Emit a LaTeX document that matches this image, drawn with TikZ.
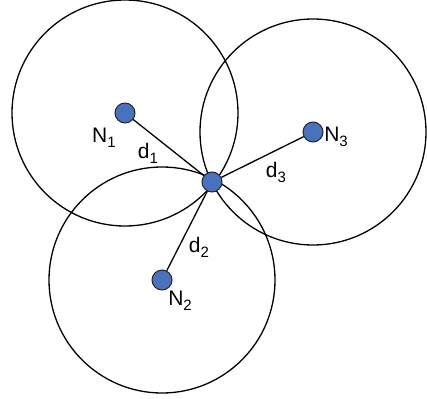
\documentclass[tikz,border=0pt]{standalone}
\usepackage{fontspec}
\setmainfont{Liberation Sans}
\usetikzlibrary{positioning}

\definecolor{dotblue}{RGB}{72,114,190}
\newcommand{\lowidx}[1]{\raisebox{-0.45ex}{\fontsize{15}{15}\selectfont #1}}

\begin{document}
\begin{tikzpicture}[x=1pt, y=-1pt, every node/.style={font=\fontsize{21}{24}\selectfont, inner sep=0pt},
	sensor/.style={draw=black!85, line width=1pt, circle, fill=dotblue, minimum size=20pt, inner sep=0pt},
	reach/.style={line width=1.3pt},
	link/.style={line width=1.3pt}]
	\useasboundingbox (0,0) rectangle (427,398);
	\coordinate (p1) at (125,113);
	\coordinate (p2) at (162,280);
	\coordinate (p3) at (313,132);
	\foreach \i in {1,2,3} {
		\draw[reach] (p\i) circle[radius=113pt];
	}
	\node[sensor] (c) at (212,182) {};
	\foreach \i in {1,2,3} {
		\node[sensor] (n\i) at (p\i) {};
		\draw[link] (n\i) -- (c);
	}
	\node (l1) at (104,138) {N\lowidx{1}};
	\node (l2) at (180,301) {N\lowidx{2}};
	\node (l3) at (336,137) {N\lowidx{3}};
	\node (d1) at (148,153) {d\lowidx{1}};
	\node (d2) at (199,247) {d\lowidx{2}};
	\node (d3) at (276,172) {d\lowidx{3}};
\end{tikzpicture}
\end{document}
